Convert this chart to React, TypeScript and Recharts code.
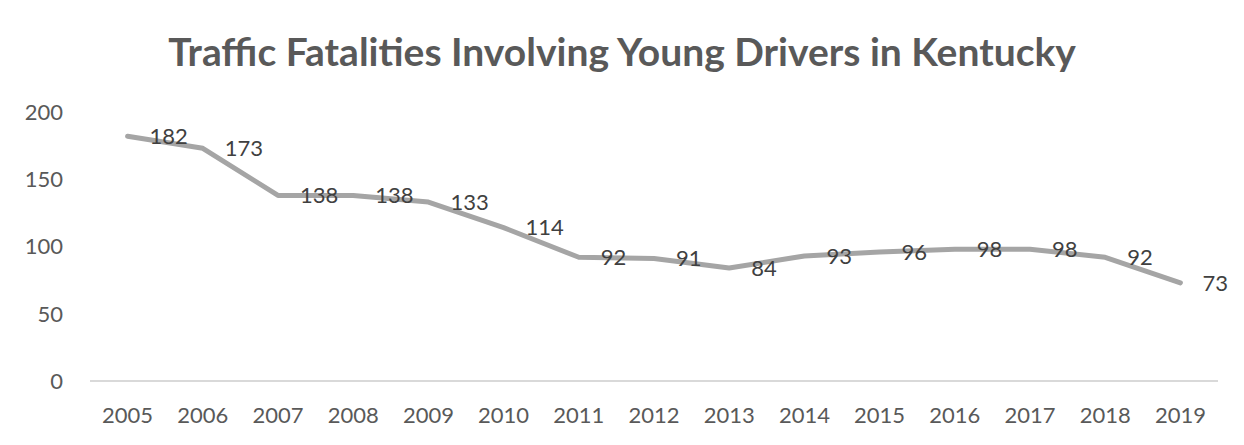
import React from "react";
import { LineChart, Line, XAxis, YAxis, LabelList } from "recharts";

const years = ["2005", "2006", "2007", "2008", "2009", "2010", "2011", "2012", "2013", "2014", "2015", "2016", "2017", "2018", "2019"];
const fatalities = [182, 173, 138, 138, 133, 114, 92, 91, 84, 93, 96, 98, 98, 92, 73];
const yTicks = [0, 50, 100, 150, 200];

const data = years.map((y, i) => ({ year: y, value: fatalities[i] }));

const FONT = "Lato, 'Open Sans', sans-serif";

export default function App() {
  return (
    <div style={{ position: "relative", margin: -8, width: 1244, height: 445, overflow: "hidden", background: "#fff" }}>
      <div
        style={{
          position: "absolute",
          left: 0,
          top: 32,
          width: 1244,
          textAlign: "center",
          fontFamily: FONT,
          fontWeight: 700,
          fontSize: 39,
          lineHeight: "39px",
          color: "#595959",
        }}
      >
        Traffic Fatalities Involving Young Drivers in Kentucky
      </div>
      <div style={{ position: "absolute", left: 0, top: 0 }}>
        <LineChart width={1244} height={445} data={data} margin={{ top: 112, right: 26, bottom: 34, left: 0 }}>
          <XAxis
            dataKey="year"
            scale="band"
            height={30}
            axisLine={{ stroke: "#D9D9D9", strokeWidth: 2 }}
            tickLine={false}
            tickSize={0}
            tickMargin={26}
            interval={0}
            tick={{ fill: "#595959", fontSize: 22, fontFamily: FONT }}
          />
          <YAxis
            domain={[0, 200]}
            ticks={yTicks}
            width={90}
            axisLine={false}
            tickLine={false}
            tickSize={0}
            tickMargin={27}
            tick={{ fill: "#595959", fontSize: 22, fontFamily: FONT }}
          />
          <Line
            type="linear"
            dataKey="value"
            stroke="#A5A5A5"
            strokeWidth={5}
            strokeLinejoin="round"
            strokeLinecap="round"
            dot={false}
            isAnimationActive={false}
          >
            <LabelList dataKey="value" position="right" offset={22} fill="#404040" fontSize={22} fontFamily={FONT} />
          </Line>
        </LineChart>
      </div>
      <div
        style={{
          position: "absolute",
          left: 6,
          top: 6,
          width: 1300,
          height: 500,
          borderLeft: "2px solid #D9D9D9",
          borderTop: "2px solid #D9D9D9",
          pointerEvents: "none",
          zIndex: 10,
        }}
      />
    </div>
  );
}
